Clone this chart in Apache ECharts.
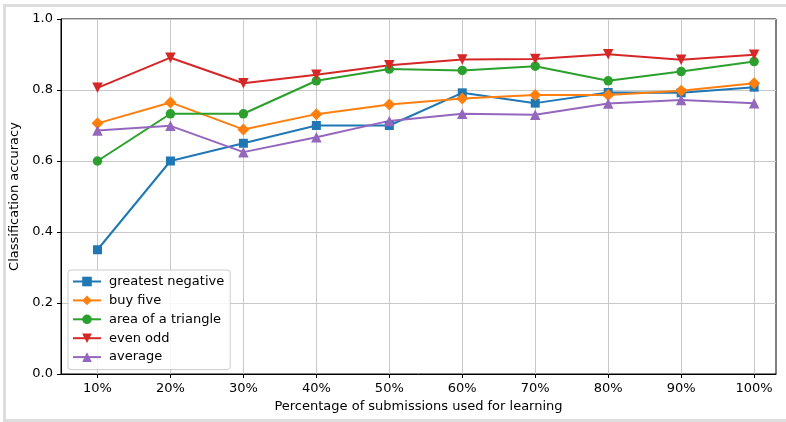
<!DOCTYPE html>
<html>
<head>
<meta charset="utf-8">
<script src="https://cdn.jsdelivr.net/npm/echarts@6/dist/echarts.min.js"></script>
<style>html,body{margin:0;padding:0;background:#fff;}#c{width:786px;height:422px;}</style>
</head>
<body>
<div id="c"></div>
<script>
const percentages = [10, 20, 30, 40, 50, 60, 70, 80, 90, 100];
const greatestNegative = [0.35, 0.60, 0.65, 0.70, 0.70, 0.792, 0.763, 0.793, 0.792, 0.808];
const buyFive = [0.706, 0.765, 0.689, 0.732, 0.759, 0.776, 0.786, 0.786, 0.798, 0.819];
const areaOfTriangle = [0.60, 0.733, 0.733, 0.826, 0.859, 0.855, 0.867, 0.826, 0.852, 0.880];
const evenOdd = [0.806, 0.891, 0.819, 0.843, 0.870, 0.886, 0.887, 0.901, 0.885, 0.899];
const average = [0.686, 0.699, 0.625, 0.667, 0.713, 0.733, 0.730, 0.762, 0.772, 0.763];
const yTicks = [0, 0.2, 0.4, 0.6, 0.8, 1.0];

const font = 'DejaVu Sans';
function mk(name, data, color, symbol, size, rotate) {
  return {
    name: name, type: 'line',
    data: data.map((v, i) => [percentages[i], v]),
    symbol: symbol, symbolSize: size, symbolRotate: rotate || 0,
    showAllSymbol: true,
    lineStyle: { color: color, width: 2 },
    itemStyle: { color: color },
    emphasis: { disabled: true },
    animation: false
  };
}
const chart = echarts.init(document.getElementById('c'), null, { renderer: 'canvas' });
chart.setOption({
  animation: false,
  backgroundColor: '#fff',
  textStyle: { fontFamily: font },
  graphic: [{
    type: 'rect', silent: true, z: -10,
    shape: { x: 4.5, y: 5.5, width: 800, height: 415 },
    style: { fill: 'none', stroke: '#dddddd', lineWidth: 3 }
  }],
  grid: { left: 61, right: 10, top: 19, bottom: 48, show: true, borderColor: '#000', borderWidth: 1, backgroundColor: 'transparent' },
  legend: {
    orient: 'vertical', left: 68, top: 270,
    padding: [5, 6, 6, 4],
    backgroundColor: 'rgba(255,255,255,0.85)',
    borderColor: '#cccccc', borderWidth: 1, borderRadius: 3,
    itemWidth: 28, itemHeight: 12, itemGap: 5.9,
    textStyle: { fontFamily: font, fontSize: 13, color: '#000', padding: [0, 0, 0, 3] },
    data: ['greatest negative', 'buy five', 'area of a triangle', 'even odd', 'average']
  },
  xAxis: {
    type: 'value', min: 5, max: 103,
    name: 'Percentage of submissions used for learning',
    nameLocation: 'middle', nameGap: 26,
    nameTextStyle: { fontFamily: font, fontSize: 13, color: '#000' },
    axisLine: { show: true, lineStyle: { color: '#000', width: 1 } },
    axisTick: { show: true, length: 4, lineStyle: { color: '#000' }, customValues: percentages },
    axisLabel: { fontFamily: font, fontSize: 13, color: '#000', margin: 8, customValues: percentages, formatter: v => v + '%' },
    splitLine: { show: true, lineStyle: { color: '#c8c8c8', width: 1 } }
  },
  yAxis: {
    type: 'value', min: 0, max: 1, interval: 0.2,
    name: 'Classification accuracy',
    nameLocation: 'middle', nameGap: 32,
    nameTextStyle: { fontFamily: font, fontSize: 13, color: '#000' },
    axisLine: { show: true, lineStyle: { color: '#000', width: 1 } },
    axisTick: { show: true, length: 4, lineStyle: { color: '#000' } },
    axisLabel: { fontFamily: font, fontSize: 13, color: '#000', margin: 8, formatter: v => v.toFixed(1) },
    splitLine: { show: true, lineStyle: { color: '#c8c8c8', width: 1 } }
  },
  series: [
    mk('greatest negative', greatestNegative, '#1f77b4', 'rect', 9),
    mk('buy five', buyFive, '#ff7f0e', 'diamond', 12),
    mk('area of a triangle', areaOfTriangle, '#2ca02c', 'circle', 9.5),
    mk('even odd', evenOdd, '#d62728', 'triangle', 10.5, 180),
    mk('average', average, '#9467bd', 'triangle', 10.5)
  ]
});
</script>
</body>
</html>
